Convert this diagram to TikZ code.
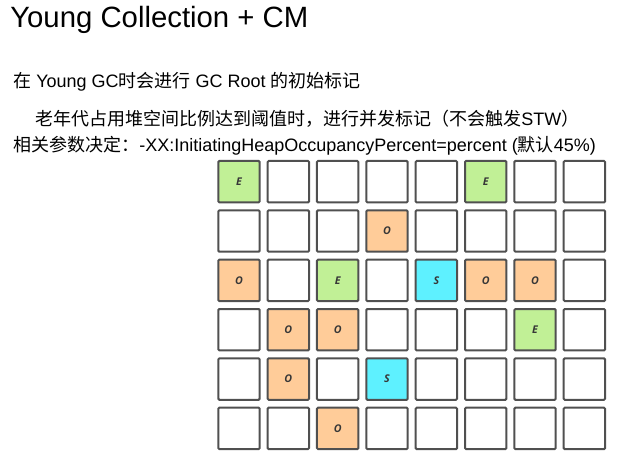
\documentclass[tikz,border=0pt]{standalone}
\usepackage{fontspec}
\setmainfont{Liberation Sans}
\newfontfamily\cjk{Noto Sans CJK SC}
\newfontfamily\cellfont{Open Sans}[BoldItalicFont={Open Sans Bold Italic}]
\newcommand\C[1]{{\cjk #1}}
\definecolor{egreen}{RGB}{193,240,150}
\definecolor{oorange}{RGB}{255,204,153}
\definecolor{scyan}{RGB}{94,241,255}
\definecolor{bordergray}{RGB}{80,80,80}
\definecolor{lettergray}{RGB}{55,55,55}
\def\ltN{}\def\ltE{E}\def\ltO{O}\def\ltS{S}
\begin{document}
\begin{tikzpicture}[x=0.75pt,y=-0.75pt,
  cell/.style={draw=bordergray, line width=1.5pt, rounded corners=0.8pt,
    minimum size=31.05pt, inner sep=0pt, outer sep=0pt,
    font=\cellfont\bfseries\itshape\fontsize{8}{9}\selectfont, text=lettergray},
  cellN/.style={fill=white},
  cellE/.style={fill=egreen},
  cellO/.style={fill=oorange},
  cellS/.style={fill=scyan},
  body/.style={anchor=base west, inner sep=0pt, font=\fontsize{13.5}{16}\selectfont}]
\useasboundingbox (0,0) rectangle (625,463);
\node[anchor=base west, inner sep=0pt, font=\fontsize{22}{26}\selectfont] (title) at (10,28) {Young Collection + CM};
\node[body] (l1) at (13,88) {\C{在} Young GC\C{时会进行} GC Root \C{的初始标记}};
\node[body] (l2) at (35,126) {\C{老年代占用堆空间比例达到阈值时，进行并发标记（不会触发}STW\C{）}};
\node[body] (l3) at (13,152) {\C{相关参数决定：}-XX:InitiatingHeapOccupancyPercent=percent (\C{默认}45\%)};
\foreach \row [count=\r] in {{E,N,N,N,N,E,N,N},{N,N,N,O,N,N,N,N},{O,N,E,N,S,O,O,N},{N,O,O,N,N,N,E,N},{N,O,N,S,N,N,N,N},{N,N,O,N,N,N,N,N}}{
  \foreach \t [count=\c] in \row {
    \node[cell, cell\t] (c\r-\c) at ({239+49.34*(\c-1)},{181.7+49.34*(\r-1)}) {\csname lt\t\endcsname};
  }
}
\end{tikzpicture}
\end{document}
